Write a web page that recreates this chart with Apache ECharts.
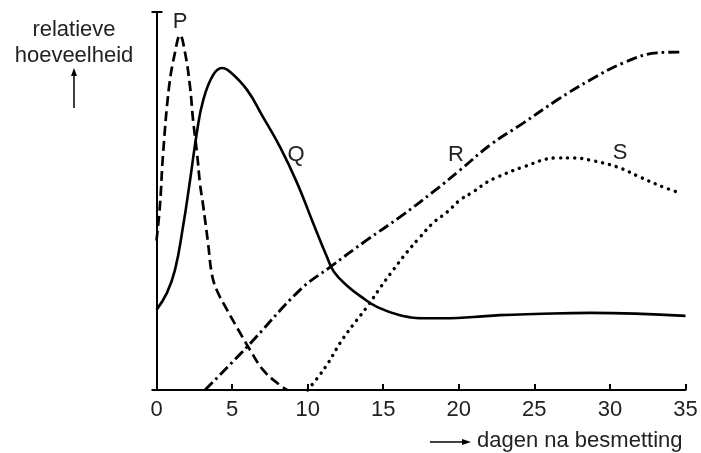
<!DOCTYPE html>
<html>
<head>
<meta charset="utf-8">
<script src="https://cdn.jsdelivr.net/npm/echarts@6/dist/echarts.min.js"></script>
<style>
html,body{margin:0;padding:0;background:#fff;}
#c{width:701px;height:453px;}
</style>
</head>
<body>
<div id="c"></div>
<script>
// ---- data ----
var xTicks = [0, 5, 10, 15, 20, 25, 30, 35];
var seriesP = [[0,39.5],[0.23,48.9],[0.43,62.2],[0.83,80.2],[1.22,89.2],[1.56,93.9],[1.89,89.2],[2.22,80.2],[2.42,71.4],[2.68,62.7],[2.88,54.5],[3.08,49],[3.41,38.9],[3.67,30.5],[4.0,26.3],[4.67,21.2],[5.53,15.1],[6.19,10.6],[7.05,5.3],[7.97,1.9],[8.64,0]];
var seriesQ = [[0,21.2],[0.69,25.7],[1.22,31.7],[1.75,43.1],[2.22,55.5],[2.68,68.3],[3.08,76.5],[3.74,83.3],[4.33,85.2],[4.86,84.2],[5.99,79.4],[7.05,72.2],[8.17,64.3],[9.3,54.8],[10.36,44.2],[11.28,35.2],[11.75,31.2],[12.61,27.6],[13.67,24.3],[14.59,22.0],[16.11,19.8],[17.9,19.0],[19.42,19.0],[20.95,19.3],[22.73,19.8],[25,20.1],[28.7,20.4],[35,19.6]];
var seriesR = [[3.21,0],[5.99,11.4],[9.5,26.5],[11.48,32.5],[13.93,39.7],[16.12,45.8],[18.3,52.4],[20.09,58.2],[22.07,64.8],[24.26,70.6],[26.5,76.7],[28.69,82.0],[30.87,86.5],[33.12,89.2],[34.78,89.4]];
var seriesS = [[10.0,0],[10.69,3.4],[11.35,7.1],[12.14,12.4],[13.0,17.2],[13.93,22.0],[14.79,27.0],[15.65,31.7],[16.58,36.5],[17.44,40.5],[18.3,44.2],[19.23,47.1],[20.09,50.3],[20.95,52.4],[21.87,55.0],[22.54,56.3],[24.26,59.0],[26.5,61.4],[27.56,61.4],[28.69,60.8],[30.48,59.0],[32.0,56.3],[33.52,53.7],[34.65,52.1]];
var curveNames = ['P', 'Q', 'R', 'S'];
var curveLabelAnchors = [[1.56, 97.4], [9.24, 62.2], [19.82, 62.2], [30.67, 62.6]];
var yAxisTitle = ['relatieve', 'hoeveelheid'];
var xAxisTitle = 'dagen na besmetting';

var FONT = '"Liberation Sans", Arial, Helvetica, sans-serif';
var TXT = '#222';

function labelPoint(i) {
  return {
    data: [{ coord: curveLabelAnchors[i], value: curveNames[i] }],
    symbol: 'circle', symbolSize: 0, silent: true,
    label: { show: true, position: 'inside', formatter: curveNames[i], fontSize: 22, fontFamily: FONT, color: TXT }
  };
}

var chart = echarts.init(document.getElementById('c'), null, { renderer: 'canvas' });
var option = {
  animation: false,
  backgroundColor: '#fff',
  grid: { left: 156.5, right: 15.5, top: 12, bottom: 63, containLabel: false },
  xAxis: {
    type: 'value', min: 0, max: 35, interval: 5,
    axisLine: { show: true, onZero: false, lineStyle: { color: '#000', width: 2 } },
    axisTick: { show: true, inside: true, length: 6, lineStyle: { color: '#000', width: 2 } },
    axisLabel: { margin: 9, fontSize: 22, fontFamily: FONT, color: TXT,
      formatter: function (v) { return xTicks.indexOf(v) >= 0 ? String(v) : ''; } },
    splitLine: { show: false }
  },
  yAxis: [{
    type: 'value', min: 0, max: 100, interval: 100,
    axisLine: { show: true, onZero: false, lineStyle: { color: '#000', width: 2 } },
    axisTick: { show: true, inside: false, length: 5, lineStyle: { color: '#000', width: 2 } },
    axisLabel: { show: false },
    splitLine: { show: false }
  }, {
    type: 'value', min: 0, max: 100, interval: 100, position: 'left',
    axisLine: { show: false },
    axisTick: { show: true, inside: true, length: 6, lineStyle: { color: '#000', width: 2 } },
    axisLabel: { show: false },
    splitLine: { show: false }
  }],
  series: [
    { name: 'P', type: 'line', data: seriesP, smooth: 0.4, showSymbol: false, clip: false,
      lineStyle: { color: '#000', width: 2.7, type: [10, 5] }, markPoint: labelPoint(0) },
    { name: 'Q', type: 'line', data: seriesQ, smooth: 0.45, showSymbol: false, clip: false,
      lineStyle: { color: '#000', width: 2.6, type: 'solid' }, markPoint: labelPoint(1) },
    { name: 'R', type: 'line', data: seriesR, smooth: 0.4, showSymbol: false, clip: false,
      lineStyle: { color: '#000', width: 2.9, type: [11, 4, 2.5, 4] }, markPoint: labelPoint(2) },
    { name: 'S', type: 'line', data: seriesS, smooth: 0.4, showSymbol: false, clip: false,
      lineStyle: { color: '#000', width: 3.4, type: [0.1, 7], cap: 'round' }, markPoint: labelPoint(3) }
  ],
  graphic: [
    { type: 'text', style: {
        text: yAxisTitle.join('\n'), x: 74, y: 17, align: 'center', verticalAlign: 'top',
        font: '22px ' + FONT, fill: TXT, lineHeight: 26 } },
    { type: 'line', shape: { x1: 74, y1: 108, x2: 74, y2: 75 }, style: { stroke: '#000', lineWidth: 1.5 } },
    { type: 'polygon', shape: { points: [[74, 68], [71, 76], [77, 76]] }, style: { fill: '#000' } },
    { type: 'line', shape: { x1: 430, y1: 442, x2: 463, y2: 442 }, style: { stroke: '#000', lineWidth: 1.5 } },
    { type: 'polygon', shape: { points: [[471, 442], [462, 439], [462, 445]] }, style: { fill: '#000' } },
    { type: 'text', style: { text: xAxisTitle, x: 477, y: 441, align: 'left', verticalAlign: 'middle',
        font: '22px ' + FONT, fill: TXT } }
  ]
};
chart.setOption(option);
</script>
</body>
</html>
